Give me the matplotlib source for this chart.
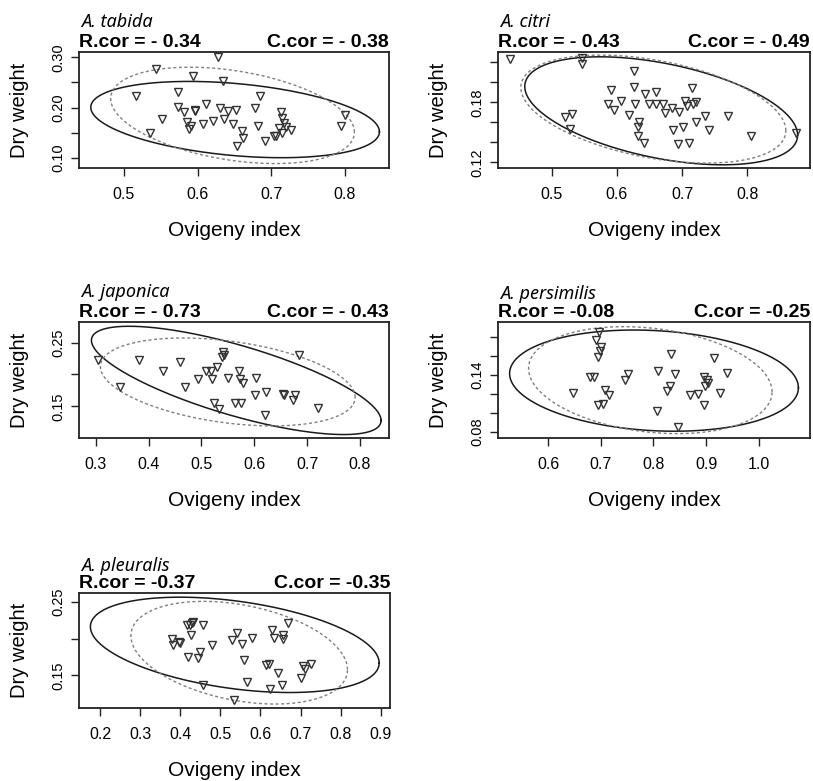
import matplotlib
matplotlib.use("Agg")
import matplotlib.pyplot as plt
import numpy as np

# species names and correlation labels
especies = ["A. tabida", "A. citri", "A. japonica", "A. persimilis", "A. pleuralis"]
r_cor = ["R.cor = - 0.34", "R.cor = - 0.43", "R.cor = - 0.73", "R.cor = -0.08", "R.cor = -0.37"]
c_cor = ["C.cor = - 0.38", "C.cor = - 0.49", "C.cor = - 0.43", "C.cor = -0.25", "C.cor = -0.35"]

# points (ovigeny index, dry weight)
tabida_x = [0.628, 0.544, 0.594, 0.635, 0.516, 0.574, 0.685, 0.574, 0.582, 0.596, 0.597,
            0.611, 0.630, 0.641, 0.652, 0.678, 0.552, 0.585, 0.591, 0.588, 0.608, 0.621,
            0.636, 0.648, 0.660, 0.662, 0.654, 0.682, 0.691, 0.704, 0.706, 0.713, 0.715,
            0.717, 0.711, 0.720, 0.727, 0.715, 0.535, 0.800, 0.795]
tabida_y = [0.300, 0.277, 0.263, 0.253, 0.222, 0.231, 0.222, 0.202, 0.192, 0.196, 0.194,
            0.207, 0.199, 0.194, 0.196, 0.200, 0.177, 0.172, 0.163, 0.157, 0.168, 0.174,
            0.177, 0.168, 0.154, 0.139, 0.124, 0.163, 0.133, 0.143, 0.143, 0.192, 0.180,
            0.169, 0.159, 0.162, 0.155, 0.149, 0.150, 0.186, 0.163]

citri_x = [0.436, 0.547, 0.547, 0.627, 0.591, 0.627, 0.643, 0.660, 0.715, 0.586, 0.606,
           0.596, 0.628, 0.649, 0.660, 0.671, 0.684, 0.695, 0.674, 0.705, 0.707, 0.716,
           0.721, 0.618, 0.634, 0.632, 0.633, 0.642, 0.686, 0.701, 0.721, 0.735, 0.742,
           0.771, 0.694, 0.711, 0.805, 0.874, 0.520, 0.532, 0.529]
citri_y = [0.223, 0.224, 0.218, 0.211, 0.192, 0.195, 0.188, 0.190, 0.194, 0.178, 0.181,
           0.172, 0.178, 0.178, 0.178, 0.178, 0.174, 0.170, 0.169, 0.181, 0.176, 0.178,
           0.180, 0.167, 0.160, 0.155, 0.146, 0.139, 0.152, 0.155, 0.160, 0.166, 0.152,
           0.166, 0.138, 0.139, 0.146, 0.149, 0.165, 0.168, 0.153]

japonica_x = [0.304, 0.347, 0.382, 0.427, 0.460, 0.469, 0.494, 0.508, 0.518, 0.521, 0.529,
              0.541, 0.542, 0.539, 0.551, 0.571, 0.574, 0.579, 0.604, 0.524, 0.533, 0.563,
              0.575, 0.602, 0.622, 0.620, 0.654, 0.656, 0.678, 0.673, 0.685, 0.720]
japonica_y = [0.222, 0.181, 0.222, 0.206, 0.220, 0.181, 0.193, 0.206, 0.206, 0.193, 0.212,
              0.235, 0.230, 0.227, 0.195, 0.206, 0.193, 0.187, 0.195, 0.155, 0.145, 0.155,
              0.155, 0.168, 0.173, 0.137, 0.169, 0.168, 0.168, 0.160, 0.231, 0.148]

persimilis_x = [0.697, 0.691, 0.701, 0.699, 0.695, 0.679, 0.688, 0.648, 0.708, 0.716, 0.694,
                0.704, 0.751, 0.746, 0.833, 0.809, 0.840, 0.832, 0.825, 0.806, 0.846, 0.869,
                0.885, 0.895, 0.896, 0.901, 0.904, 0.898, 0.914, 0.939, 0.926]
persimilis_y = [0.185, 0.176, 0.169, 0.165, 0.159, 0.138, 0.138, 0.121, 0.124, 0.119, 0.108,
                0.109, 0.141, 0.134, 0.162, 0.144, 0.141, 0.128, 0.123, 0.102, 0.085, 0.119,
                0.120, 0.108, 0.138, 0.134, 0.131, 0.128, 0.157, 0.142, 0.121]

pleuralis_x = [0.416, 0.425, 0.433, 0.430, 0.456, 0.428, 0.379, 0.381, 0.397, 0.400, 0.449,
               0.444, 0.420, 0.479, 0.541, 0.530, 0.553, 0.578, 0.560, 0.566, 0.535, 0.457,
               0.630, 0.634, 0.656, 0.655, 0.669, 0.614, 0.622, 0.645, 0.624, 0.654, 0.706,
               0.710, 0.727, 0.702]
pleuralis_y = [0.219, 0.218, 0.223, 0.221, 0.218, 0.205, 0.200, 0.191, 0.195, 0.194, 0.182,
               0.173, 0.175, 0.191, 0.208, 0.198, 0.193, 0.201, 0.171, 0.141, 0.116, 0.137,
               0.212, 0.201, 0.205, 0.200, 0.222, 0.164, 0.166, 0.153, 0.131, 0.137, 0.163,
               0.159, 0.166, 0.147]

pontos = [(tabida_x, tabida_y), (citri_x, citri_y), (japonica_x, japonica_y),
          (persimilis_x, persimilis_y), (pleuralis_x, pleuralis_y)]

# ellipses: centre x, centre y, half width, half height, correlation
elipse_solida = [(0.651, 0.176, 0.196, 0.076, -0.32),
                 (0.668, 0.1715, 0.209, 0.054, -0.45),
                 (0.566, 0.1906, 0.274, 0.085, -0.74),
                 (0.801, 0.1338, 0.274, 0.053, -0.14),
                 (0.536, 0.1916, 0.360, 0.065, -0.38)]
elipse_tracejada = [(0.6475, 0.1843, 0.1655, 0.096, -0.35),
                    (0.656, 0.1732, 0.203, 0.054, -0.40),
                    (0.550, 0.1882, 0.241, 0.069, -0.35),
                    (0.794, 0.1343, 0.231, 0.056, -0.22),
                    (0.547, 0.1809, 0.270, 0.070, -0.33)]

# axis limits and ticks
xlims = [(0.439, 0.860), (0.418, 0.896), (0.2685, 0.855), (0.505, 1.097), (0.1476, 0.923)]
ylims = [(0.0795, 0.3106), (0.1143, 0.2303), (0.1002, 0.2823), (0.0737, 0.1952), (0.1055, 0.2623)]
xticks = [[0.5, 0.6, 0.7, 0.8], [0.5, 0.6, 0.7, 0.8], [0.3, 0.4, 0.5, 0.6, 0.7, 0.8],
          [0.6, 0.7, 0.8, 0.9, 1.0], [0.2, 0.3, 0.4, 0.5, 0.6, 0.7, 0.8, 0.9]]
yticks = [[0.10, 0.15, 0.20, 0.25, 0.30], [0.12, 0.14, 0.16, 0.18, 0.20, 0.22],
          [0.15, 0.20, 0.25], [0.08, 0.10, 0.12, 0.14, 0.16, 0.18], [0.15, 0.20, 0.25]]
ytick_labels = [["0.10", "", "0.20", "", "0.30"], ["0.12", "", "", "0.18", "", ""],
                ["0.15", "", "0.25"], ["0.08", "", "", "0.14", "", ""], ["0.15", "", "0.25"]]

# axes boxes in pixels (left, top, right, bottom)
caixas = [(79, 52, 389, 168), (498, 52, 810, 168), (79, 322, 389, 438),
          (498, 322, 810, 438), (79, 593, 390, 708)]
desloc_especie = [25, 25, 25, 23, 22]

W, H = 813, 781


def elipse(cx, cy, rx, ry, rho, n=300):
    t = np.linspace(0, 2 * np.pi, n)
    d = np.arccos(rho)
    return cx + rx * np.cos(t), cy + ry * np.cos(t - d)


def painel(fig, i):
    x0, y0, x1, y1 = caixas[i]
    ax = fig.add_axes([x0 / W, 1 - y1 / H, (x1 - x0) / W, (y1 - y0) / H])
    h = y1 - y0
    w = x1 - x0

    ex, ey = elipse(*elipse_solida[i])
    ax.plot(ex, ey, color="#1a1a1a", lw=1.1)
    ex, ey = elipse(*elipse_tracejada[i])
    ax.plot(ex, ey, color="#808080", lw=1.0, dashes=(2.2, 1.8))

    px, py = pontos[i]
    ax.plot(px, py, "v", ms=6, mfc="none", mec="#333333", mew=1.0, clip_on=False)

    ax.set_xlim(*xlims[i])
    ax.set_ylim(*ylims[i])
    ax.set_xticks(xticks[i])
    ax.set_xticklabels(["%.1f" % v for v in xticks[i]])
    ax.set_yticks(yticks[i])
    ax.set_yticklabels(ytick_labels[i], rotation=90, va="center")
    ax.tick_params(direction="out", length=6, width=1.0, color="#222222")
    ax.tick_params(axis="x", pad=8, labelsize=11.5)
    ax.tick_params(axis="y", pad=4, labelsize=10.5)
    for s in ax.spines.values():
        s.set_linewidth(1.3)
        s.set_color("#222222")

    ax.text(0.5, -62 / h, "Ovigeny index", transform=ax.transAxes, ha="center",
            va="center", fontsize=15)
    ax.text(-60 / w, 0.5, "Dry weight", transform=ax.transAxes, ha="center",
            va="center", rotation=90, fontsize=14.5)
    ax.text(0, 1 + 5 / h, r_cor[i], transform=ax.transAxes, ha="left", va="baseline",
            fontsize=14, fontweight="bold")
    ax.text(1, 1 + 5 / h, c_cor[i], transform=ax.transAxes, ha="right", va="baseline",
            fontsize=14, fontweight="bold")
    ax.text(0.005, 1 + desloc_especie[i] / h, especies[i], transform=ax.transAxes,
            ha="left", va="baseline", fontsize=13, fontstyle="italic",
            family="Noto Sans")
    return ax


def main():
    plt.rcParams["font.family"] = ["Liberation Sans", "DejaVu Sans"]
    fig = plt.figure(figsize=(W / 100, H / 100), dpi=100)
    for i in range(len(especies)):
        painel(fig, i)
    fig.savefig("out.png", dpi=100)


if __name__ == "__main__":
    main()
